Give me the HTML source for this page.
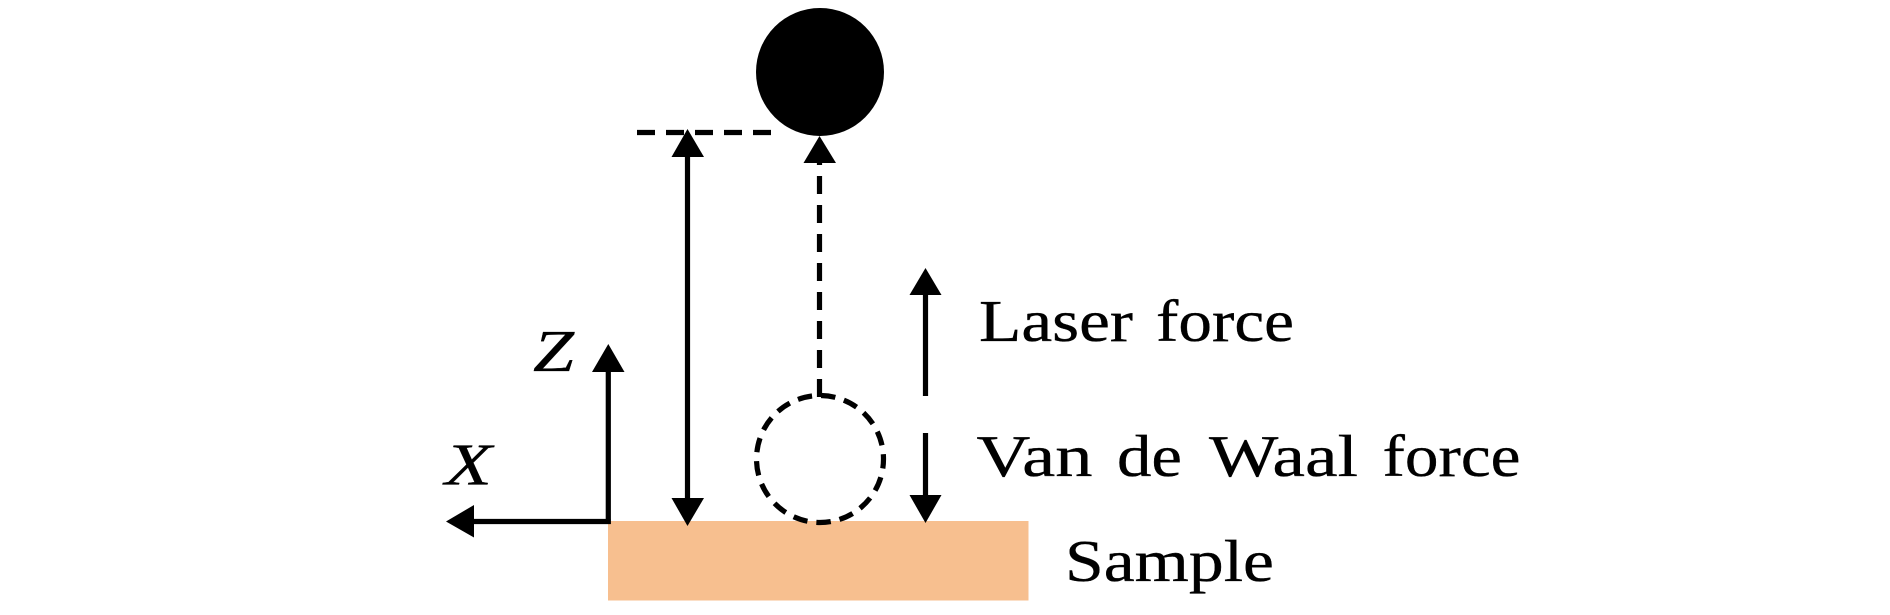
<!DOCTYPE html>
<html><head><meta charset="utf-8"><style>html,body{margin:0;padding:0;background:#fff;width:1890px;height:615px;overflow:hidden}svg{display:block}text{font-family:"Liberation Serif",serif;fill:#000;font-size:59px;stroke:#000;stroke-width:.35px}</style></head>
<body>
<svg width="1890" height="615" viewBox="0 0 1890 615" xmlns="http://www.w3.org/2000/svg">
<rect x="608" y="521" width="420.5" height="79.5" fill="#F7BF8F"/>
<circle cx="820" cy="72" r="64" fill="#000"/>
<!-- dashed guides -->
<line x1="637" y1="132.5" x2="771" y2="132.5" stroke="#000" stroke-width="5.2" stroke-dasharray="18 11"/>
<line x1="819.5" y1="397" x2="819.5" y2="150" stroke="#000" stroke-width="5.2" stroke-dasharray="18 11"/>
<circle cx="820" cy="459" r="63.5" fill="none" stroke="#000" stroke-width="5.2" stroke-dasharray="14.5 8.97" stroke-dashoffset="5"/>
<!-- dashed arrow head -->
<polygon points="819.5,136 803.5,163 836,163" fill="#000"/>
<!-- double arrow -->
<line x1="687.5" y1="155" x2="687.5" y2="500" stroke="#000" stroke-width="5.2"/>
<polygon points="687.5,129 671.5,157 704,157" fill="#000"/>
<polygon points="687.5,526 671.5,498 704,498" fill="#000"/>
<!-- axes -->
<line x1="608.3" y1="370" x2="608.3" y2="524" stroke="#000" stroke-width="5.2"/>
<polygon points="608.3,344 592,372 624.5,372" fill="#000"/>
<line x1="472" y1="521.5" x2="610.7" y2="521.5" stroke="#000" stroke-width="5.2"/>
<polygon points="446,521.5 474,505 474,537.5" fill="#000"/>
<!-- force arrows -->
<line x1="925.5" y1="293" x2="925.5" y2="396" stroke="#000" stroke-width="5.2"/>
<polygon points="925.5,268 909.5,295 941.5,295" fill="#000"/>
<line x1="925.5" y1="433" x2="925.5" y2="497" stroke="#000" stroke-width="5.2"/>
<polygon points="925.5,523 909.5,495 941.5,495" fill="#000"/>
<!-- labels -->
<text x="979" y="341.2" textLength="154" lengthAdjust="spacingAndGlyphs">Laser</text>
<text x="1156" y="341.2" textLength="138" lengthAdjust="spacingAndGlyphs">force</text>
<text x="976.5" y="476.2" textLength="116" lengthAdjust="spacingAndGlyphs">Van</text>
<text x="1117" y="476.2" textLength="65" lengthAdjust="spacingAndGlyphs">de</text>
<text x="1209" y="476.2" textLength="149" lengthAdjust="spacingAndGlyphs">Waal</text>
<text x="1382.5" y="476.2" textLength="138" lengthAdjust="spacingAndGlyphs">force</text>
<text x="1065" y="581.2" textLength="209" lengthAdjust="spacingAndGlyphs">Sample</text>
<text x="533" y="371" textLength="41" lengthAdjust="spacingAndGlyphs" font-style="italic">Z</text>
<text x="445" y="484.5" textLength="47" lengthAdjust="spacingAndGlyphs" font-style="italic">X</text>
</svg>
</body></html>
